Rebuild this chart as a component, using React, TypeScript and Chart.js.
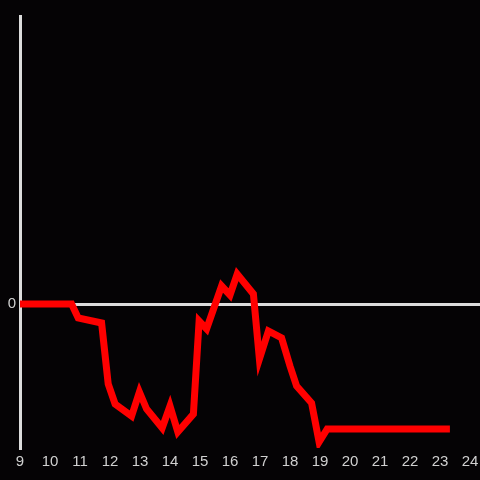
import React, { useEffect, useRef } from "react";
import { Chart, registerables } from "chart.js";

Chart.register(...registerables);

const hours = [9, 10.72, 10.94, 11.72, 11.94, 12.17, 12.72, 12.98, 13.22, 13.74, 14.0, 14.26, 14.78, 14.97, 15.22, 15.72, 16.0, 16.24, 16.78, 16.98, 17.28, 17.72, 18.0, 18.22, 18.72, 18.97, 19.24, 23.33];
const values = [0, 0, -14, -19, -80, -100, -112, -88, -105, -124, -102, -128, -110, -17, -25, 18, 9, 30, 10, -55, -27, -34, -62, -82, -99, -138, -125, -125];
const xTicks = [9, 10, 11, 12, 13, 14, 15, 16, 17, 18, 19, 20, 21, 22, 23, 24];
const yTicks = [0];

export default function App() {
  const ref = useRef<HTMLCanvasElement | null>(null);
  useEffect(() => {
    if (!ref.current) return;
    const chart = new Chart(ref.current, {
      type: "line",
      data: {
        datasets: [
          {
            data: hours.map((h, i) => ({ x: h, y: values[i] })),
            borderColor: "#ff0000",
            borderWidth: 7,
            pointRadius: 0,
            tension: 0,
            fill: false,
          },
        ],
      },
      options: {
        responsive: false,
        animation: false,
        layout: { padding: { top: 16, right: 0, left: 0, bottom: 0 } },
        plugins: { legend: { display: false }, tooltip: { enabled: false } },
        scales: {
          x: {
            type: "linear",
            min: 9,
            max: 24.3333,
            afterBuildTicks: (s: any) => {
              s.ticks = xTicks.map((v) => ({ value: v }));
            },
            afterFit: (s: any) => {
              s.height = 32;
              s.paddingLeft = 0;
              s.paddingRight = 0;
              s.paddingTop = 0;
              s.paddingBottom = 0;
            },
            grid: { display: false, drawTicks: false },
            border: { display: false },
            ticks: {
              color: "#d0d0d0",
              font: { size: 15, family: "Liberation Sans, Arial, sans-serif" },
              padding: 5,
              maxRotation: 0,
              autoSkip: false,
              callback: (v: any) => String(v),
            },
          },
          y: {
            type: "linear",
            min: -144,
            max: 288,
            afterBuildTicks: (s: any) => {
              s.ticks = yTicks.map((v) => ({ value: v }));
            },
            afterFit: (s: any) => {
              s.width = 20;
              s.paddingLeft = 0;
              s.paddingRight = 0;
              s.paddingTop = 0;
              s.paddingBottom = 0;
            },
            grid: {
              drawTicks: false,
              color: (c: any) => (c.tick && c.tick.value === 0 ? "#dcdcdc" : "rgba(0,0,0,0)"),
              lineWidth: 3,
            },
            border: { display: true, color: "#dcdcdc", width: 3 },
            ticks: {
              color: "#d0d0d0",
              font: { size: 15, family: "Liberation Sans, Arial, sans-serif" },
              padding: 4,
              callback: (v: any) => String(v),
            },
          },
        },
      },
    });
    return () => chart.destroy();
  }, []);
  return (
    <div style={{ position: "fixed", left: 0, top: 0, width: 480, height: 480, background: "#050305" }}>
      <canvas ref={ref} width={480} height={480} style={{ display: "block", width: 480, height: 480 }} />
    </div>
  );
}
